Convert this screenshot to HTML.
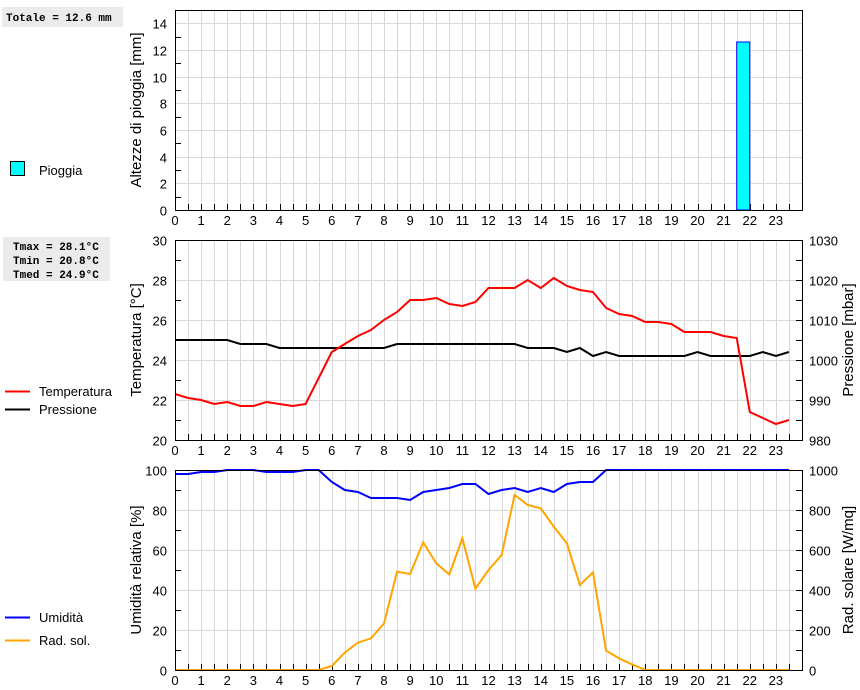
<!DOCTYPE html>
<html><head><meta charset="utf-8"><style>
body{margin:0;background:#fff;width:860px;height:690px;overflow:hidden;font-family:"Liberation Sans",sans-serif}
svg{display:block}
.box{font-family:"Liberation Mono",monospace;font-weight:bold;font-size:11px;fill:#000}
</style></head><body>
<svg id="c" width="860" height="690" xmlns="http://www.w3.org/2000/svg">
<rect x="2" y="7" width="121" height="20" fill="#ebebeb"/>
<text x="6" y="21" class="box">Totale = 12.6 mm</text>
<rect x="3" y="237" width="107" height="44" fill="#ebebeb"/>
<text x="13" y="250" class="box">Tmax = 28.1°C</text>
<text x="13" y="264" class="box">Tmin = 20.8°C</text>
<text x="13" y="278" class="box">Tmed = 24.9°C</text>
<rect x="10.5" y="161.5" width="14" height="14" fill="#00ffff" stroke="#000"/>
<text x="39" y="175" font-size="13">Pioggia</text>
<line x1="5" x2="30" y1="391.5" y2="391.5" stroke="#f00" stroke-width="2"/>
<text x="39" y="396" font-size="13">Temperatura</text>
<line x1="5" x2="30" y1="409.5" y2="409.5" stroke="#000" stroke-width="2"/>
<text x="39" y="414" font-size="13">Pressione</text>
<line x1="5" x2="30" y1="617.5" y2="617.5" stroke="#00f" stroke-width="2"/>
<text x="39" y="622" font-size="13">Umidità</text>
<line x1="5" x2="30" y1="640.5" y2="640.5" stroke="#ffa500" stroke-width="2"/>
<text x="39" y="645" font-size="13">Rad. sol.</text>
</svg>
<script>
const hours=[];for(let i=0;i<48;i++)hours.push(i/2);
const hourLabels=[0,1,2,3,4,5,6,7,8,9,10,11,12,13,14,15,16,17,18,19,20,21,22,23];
const rainHours=[21.5];
const rainValues=[12.6];
const temperature=[22.3,22.1,22.0,21.8,21.9,21.7,21.7,21.9,21.8,21.7,21.8,23.1,24.4,24.8,25.2,25.5,26.0,26.4,27.0,27.0,27.1,26.8,26.7,26.9,27.6,27.6,27.6,28.0,27.6,28.1,27.7,27.5,27.4,26.6,26.3,26.2,25.9,25.9,25.8,25.4,25.4,25.4,25.2,25.1,21.4,21.1,20.8,21.0];
const pressure=[1005,1005,1005,1005,1005,1004,1004,1004,1003,1003,1003,1003,1003,1003,1003,1003,1003,1004,1004,1004,1004,1004,1004,1004,1004,1004,1004,1003,1003,1003,1002,1003,1001,1002,1001,1001,1001,1001,1001,1001,1002,1001,1001,1001,1001,1002,1001,1002];
const humidity=[98,98,99,99,100,100,100,99,99,99,100,100,94,90,89,86,86,86,85,89,90,91,93,93,88,90,91,89,91,89,93,94,94,100,100,100,100,100,100,100,100,100,100,100,100,100,100,100];
const solar=[0,0,0,0,0,0,0,0,0,0,0,0,20,87,137,158,233,492,480,638,533,478,658,407,500,575,875,825,808,717,633,425,488,97,58,28,0,0,0,0,0,0,0,0,0,0,0,0];
const rainTicks=[0,2,4,6,8,10,12,14];
const tempTicks=[20,22,24,26,28,30];
const pressTicks=[980,990,1000,1010,1020,1030];
const humTicks=[0,20,40,60,80,100];
const solarTicks=[0,200,400,600,800,1000];

const svg=document.getElementById('c');const NS='http://www.w3.org/2000/svg';
const X0=175,X1=802;
const xs=h=>X0+h*(X1-X0)/24;
function mk(tag,at,parent){const e=document.createElementNS(NS,tag);for(const k in at)e.setAttribute(k,at[k]);(parent||svg).appendChild(e);return e;}
function scale(d0,d1,top,bot){return v=>bot-(v-d0)/(d1-d0)*(bot-top);}
function panel(name,top,bot,ticksL,yl,minorL,ticksR,yr,minorR,titleL,titleR){
  const g=mk('g',{});
  
  
  for(let i=0;i<=48;i++){const x=Math.round(xs(i/2))+0.5;mk('line',{x1:x,x2:x,y1:top,y2:bot,stroke:'#d9d9d9'},g);}
  ticksL.forEach(t=>{const y=Math.round(yl(t))+0.5;mk('line',{x1:X0,x2:X1,y1:y,y2:y,stroke:'#d9d9d9'},g);
    const tx=mk('text',{x:167,y:y+5,'text-anchor':'end','font-size':13},g);tx.textContent=t;
    
    });
  minorL.forEach(t=>{const y=Math.round(yl(t))+0.5;mk('line',{x1:X0,x2:X0+6,y1:y,y2:y,stroke:'#000'},g);});
  if(ticksR){ticksR.forEach(t=>{const y=Math.round(yr(t))+0.5;mk('line',{x1:X1-6,x2:X1,y1:y,y2:y,stroke:'#000'},g);
    const tx=mk('text',{x:809,y:y+5,'font-size':13},g);tx.textContent=t;
    
    });
    minorR.forEach(t=>{const y=Math.round(yr(t))+0.5;mk('line',{x1:X1-6,x2:X1,y1:y,y2:y,stroke:'#000'},g);});}
  for(let i=0;i<48;i++){const x=Math.round(xs(i/2))+0.5;mk('line',{x1:x,x2:x,y1:bot-6,y2:bot,stroke:'#000'},g);}
  hourLabels.forEach(h=>{const tx=mk('text',{x:xs(h),y:bot+15,'text-anchor':'middle','font-size':13},g);tx.textContent=h;
    
    });
  const cy=(top+bot)/2;
  const t1=mk('text',{x:0,y:0,'text-anchor':'middle','font-size':15,transform:`translate(141,${cy}) rotate(-90)`},g);t1.textContent=titleL;
  
  
  if(titleR){const t2=mk('text',{x:0,y:0,'text-anchor':'middle','font-size':15,transform:`translate(853,${cy}) rotate(-90)`},g);t2.textContent=titleR;
    
    }
  return g;
}
function frame(top,bot,name){const r=mk('rect',{x:X0+0.5,y:top+0.5,width:X1-X0,height:bot-top,fill:'none',stroke:'#000'});
  
  }
function line(vals,ys,color,name){const p=mk('polyline',{points:vals.map((v,i)=>xs(hours[i]).toFixed(1)+','+ys(v).toFixed(1)).join(' '),fill:'none',stroke:color,'stroke-width':2});
  
  }

// rain
const yRain=scale(0,15,10,210);
panel('rain',10,210,rainTicks,yRain,[1,3,5,7,9,11,13],null,null,null,'Altezze di pioggia [mm]',null);
rainHours.forEach((h,i)=>{const b=mk('rect',{x:xs(h),y:yRain(rainValues[i]),width:xs(h+0.5)-xs(h),height:yRain(0)-yRain(rainValues[i]),fill:'#00ffff',stroke:'#0000ff'});
  
  });
frame(10,210,'rain');

// temperature / pressure
const yT=scale(20,30,240,440),yP=scale(980,1030,240,440);
panel('temp',240,440,tempTicks,yT,[21,23,25,27,29],pressTicks,yP,[985,995,1005,1015,1025],'Temperatura [°C]','Pressione [mbar]');
line(pressure,yP,'#000','pressure-line');
line(temperature,yT,'#f00','temperature-line');
frame(240,440,'temp');

// humidity / solar
const yH=scale(0,100,470,670),yS=scale(0,1000,470,670);
panel('hum',470,670,humTicks,yH,[10,30,50,70,90],solarTicks,yS,[100,300,500,700,900],'Umidità relativa [%]','Rad. solare [W/mq]');
line(solar,yS,'#ffa500','solar-radiation-line');
line(humidity,yH,'#0000ff','humidity-line');
frame(470,670,'hum');
</script>
</body></html>
